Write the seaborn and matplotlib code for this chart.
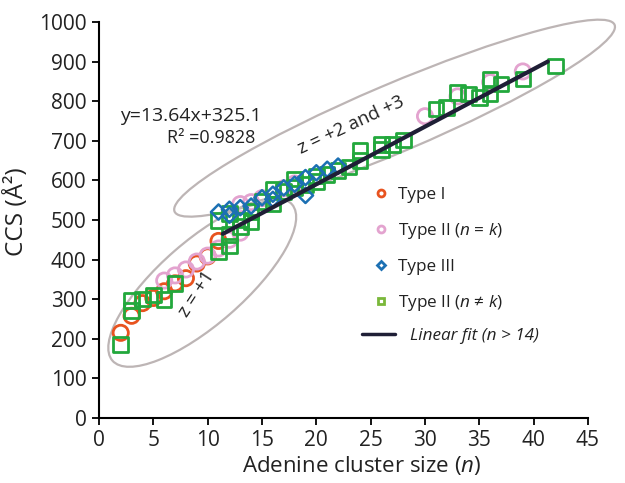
import numpy as np
import pandas as pd
import matplotlib
matplotlib.use('Agg')
import matplotlib.pyplot as plt
from matplotlib.patches import Ellipse
from matplotlib.lines import Line2D
from matplotlib.transforms import ScaledTranslation
import seaborn as sns

# values
type1_n = [2, 3, 4, 5, 6, 7, 8, 9, 10, 11]
type1_ccs = [215, 258, 290, 303, 320, 340, 353, 390, 408, 447]

type2k_n = [6, 7, 8, 9, 10, 11, 12, 13, 13, 14, 15, 17, 18, 30, 33, 36, 39]
type2k_ccs = [347, 360, 375, 395, 410, 428, 450, 468, 540, 545, 555, 580, 592, 762, 812, 848, 875]

type3_n = [11, 12, 12, 13, 14, 15, 16, 16, 17, 18, 19, 19, 20, 21, 22]
type3_ccs = [520, 527, 512, 531, 535, 556, 565, 552, 581, 590, 607, 562, 619, 628, 636]

type2nk_n = [2, 3, 3, 4, 5, 6, 7, 11, 11, 12, 12, 12, 13, 13, 14, 14, 15, 16, 16, 17,
             18, 18, 19, 20, 20, 21, 22, 23, 24, 24, 26, 26, 27, 28, 31, 32, 33, 34,
             35, 36, 36, 37, 39, 42]
type2nk_ccs = [185, 297, 272, 300, 311, 299, 340, 421, 499, 434, 463, 516, 484, 500, 495,
               522, 546, 540, 577, 572, 603, 582, 590, 611, 597, 615, 625, 634, 650, 676,
               678, 690, 691, 702, 780, 784, 822, 818, 809, 818, 856, 843, 856, 889]

fit_n = [11.4, 41.3]
fit_ccs = [465, 900]

sns.set_style('ticks')
plt.rcParams['font.family'] = ['Open Sans', 'DejaVu Sans']
plt.rcParams['mathtext.fontset'] = 'custom'
plt.rcParams['mathtext.it'] = 'Open Sans:italic'
plt.rcParams['mathtext.rm'] = 'Open Sans'

fig = plt.figure(figsize=(6.25, 4.83), dpi=100)
ax = fig.add_axes([0.1584, 0.1346, 0.7824, 0.82])

c_orange = '#e8531f'
c_pink = '#e3a3cf'
c_blue = '#1c70b3'
c_green = '#22a83c'
c_line = '#1f1f36'
c_ell = '#bdb5b5'
c_txt = '#222222'

# grey ellipses, sized in 100-dpi pixels, centred on data points
def ellipse(cx, cy, w, h, ang):
    tr = fig.dpi_scale_trans + ScaledTranslation(cx, cy, ax.transData)
    e = Ellipse((0, 0), w / 100, h / 100, angle=ang, transform=tr,
                fill=False, ec=c_ell, lw=1.6, clip_on=False, zorder=1)
    ax.add_patch(e)

ellipse(9.5, 342, 238, 84, 41)
ellipse(27.2, 757, 478, 68, 23)

sns.scatterplot(x=type1_n, y=type1_ccs, marker='o', s=120, fc='none', ec=c_orange,
                linewidth=2, ax=ax, zorder=3)
sns.scatterplot(x=type2k_n, y=type2k_ccs, marker='o', s=120, fc='none', ec=c_pink,
                linewidth=2, ax=ax, zorder=3)
sns.scatterplot(x=type2nk_n, y=type2nk_ccs, marker='s', s=110, fc='none', ec=c_green,
                linewidth=2, ax=ax, zorder=4)
sns.scatterplot(x=type3_n, y=type3_ccs, marker='D', s=60, fc='none', ec=c_blue,
                linewidth=1.8, ax=ax, zorder=5)
sns.lineplot(x=fit_n, y=fit_ccs, color=c_line, lw=3, ax=ax, zorder=6)

ax.set_xlim(0, 45)
ax.set_ylim(0, 1000)
ax.set_xticks(np.arange(0, 46, 5))
ax.set_yticks(np.arange(0, 1001, 100))
sns.despine(ax=ax)
for s in ['left', 'bottom']:
    ax.spines[s].set_linewidth(1.5)
    ax.spines[s].set_color('black')
ax.tick_params(length=5, width=1.3, labelsize=15, color='black', labelcolor=c_txt, pad=4)
ax.set_xlabel('Adenine cluster size ($\\it{n}$)', fontsize=16, color=c_txt)
ax.set_ylabel('CCS (Å²)', fontsize=17.5, color=c_txt)
ax.xaxis.set_label_coords(0.538, -0.09)
ax.yaxis.set_label_coords(-0.143, 0.52)

ax.text(1.9, 762, 'y=13.64x+325.1', fontsize=14, color=c_txt, va='center')
ax.text(6.3, 706, 'R² =0.9828', fontsize=13, color=c_txt, va='center')
ax.text(23.2, 739, 'z = +2 and +3', fontsize=13.5, rotation=25, color=c_txt,
        ha='center', va='center', rotation_mode='anchor')
ax.text(9.0, 314, 'z = +1', fontsize=13.5, rotation=57, color=c_txt,
        ha='center', va='center', rotation_mode='anchor')

mk_handles = [
    Line2D([], [], ls='none', marker='o', ms=5, mfc='none', mec=c_orange, mew=2),
    Line2D([], [], ls='none', marker='o', ms=5, mfc='none', mec=c_pink, mew=2),
    Line2D([], [], ls='none', marker='D', ms=4.5, mfc='none', mec=c_blue, mew=2),
    Line2D([], [], ls='none', marker='s', ms=5, mfc='none', mec='#7ab83a', mew=2),
]
mk_labels = ['Type I', 'Type II ($\\it{n}$ = $\\it{k}$)', 'Type III',
             'Type II ($\\it{n}$ ≠ $\\it{k}$)']
leg1 = ax.legend(mk_handles, mk_labels, loc='upper left', bbox_to_anchor=(0.559, 0.584),
                 frameon=False, fontsize=12.3, handlelength=1.0, handletextpad=0.5,
                 labelspacing=1.06, borderpad=0, borderaxespad=0)
for t in leg1.get_texts():
    t.set_color(c_txt)
ax.add_artist(leg1)

leg2 = ax.legend([Line2D([], [], color=c_line, lw=2.5)], ['Linear fit (n > 14)'],
                 loc='upper left', bbox_to_anchor=(0.538, 0.227), frameon=False,
                 fontsize=12.3, handlelength=1.93, handletextpad=0.88,
                 borderpad=0, borderaxespad=0)
for t in leg2.get_texts():
    t.set_fontstyle('italic')
    t.set_color(c_txt)

fig.savefig('out.png', dpi=100)
